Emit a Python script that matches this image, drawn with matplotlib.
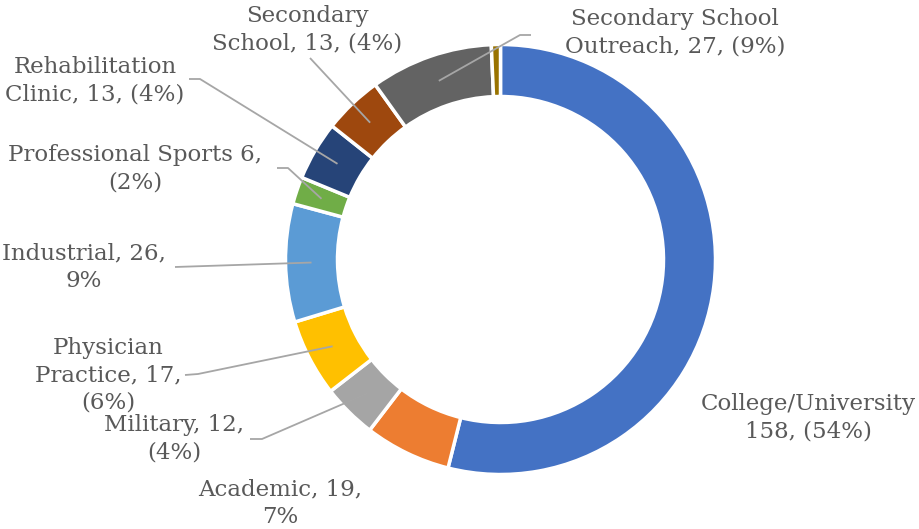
import matplotlib
matplotlib.use("Agg")
import matplotlib.pyplot as plt
import numpy as np

categories = ["College/University", "Academic", "Military", "Physician Practice",
              "Industrial", "Professional Sports", "Rehabilitation Clinic",
              "Secondary School", "Secondary School Outreach", "Other"]
values = [158, 19, 12, 17, 26, 6, 13, 13, 27, 2]
colors = ["#4472C4", "#ED7D31", "#A5A5A5", "#FFC000", "#5B9BD5", "#70AD47",
          "#264478", "#9E480E", "#636363", "#997300"]
label_texts = ["College/University\n158, (54%)", "Academic, 19,\n7%",
               "Military, 12,\n(4%)", "Physician\nPractice, 17,\n(6%)",
               "Industrial, 26,\n9%", "Professional Sports 6,\n(2%)",
               "Rehabilitation\nClinic, 13, (4%)", "Secondary\nSchool, 13, (4%)",
               "Secondary School\nOutreach, 27, (9%)", None]

W, H = 920, 529
fig = plt.figure(figsize=(W / 100, H / 100), dpi=100)
ax = fig.add_axes([0, 0, 1, 1])

cx, cy_px = 500.5, 259.5
R, ring = 215, 52
wedges, _ = ax.pie(values, colors=colors, startangle=90, counterclock=False,
                   center=(cx, H - cy_px), radius=R, frame=True,
                   wedgeprops=dict(width=ring, edgecolor="white", linewidth=2.5))
ax.set_xlim(0, W)
ax.set_ylim(0, H)
ax.set_aspect("equal")
ax.axis("off")

# label layout (pixel coords, y from top): text centre, leader start (None = no leader)
layout = {
    0: dict(pos=(808, 418), leader=None),
    1: dict(pos=(280, 503), leader=None),
    2: dict(pos=(174, 439), leader=[(250, 439), (262, 439)]),
    3: dict(pos=(108, 375), leader=[(185, 375), (198, 374)]),
    4: dict(pos=(84, 267), leader=[(175, 267)]),
    5: dict(pos=(135, 169), leader=[(277, 168), (288, 168)]),
    6: dict(pos=(95, 81), leader=[(189, 79), (200, 79)]),
    7: dict(pos=(307, 30), leader=[(310, 58)]),
    8: dict(pos=(675, 33), leader=[(531, 35), (520, 35)]),
}

lead_color = "#A6A6A6"
for i, w in enumerate(wedges):
    if label_texts[i] is None:
        continue
    L = layout[i]
    ax.text(L["pos"][0], H - L["pos"][1], label_texts[i], ha="center", va="center",
            fontsize=16.5, family="DejaVu Serif", color="#595959", linespacing=1.3)
    if L["leader"]:
        mid = np.deg2rad((w.theta1 + w.theta2) / 2)
        r_mid = R - ring / 2
        ex = cx + r_mid * np.cos(mid)
        ey = (H - cy_px) + r_mid * np.sin(mid)
        pts = [(x, H - y) for x, y in L["leader"]] + [(ex, ey)]
        xs, ys = zip(*pts)
        ax.plot(xs, ys, color=lead_color, lw=1.3, solid_capstyle="butt", zorder=5)

fig.savefig("out.png", dpi=100, facecolor="white")
